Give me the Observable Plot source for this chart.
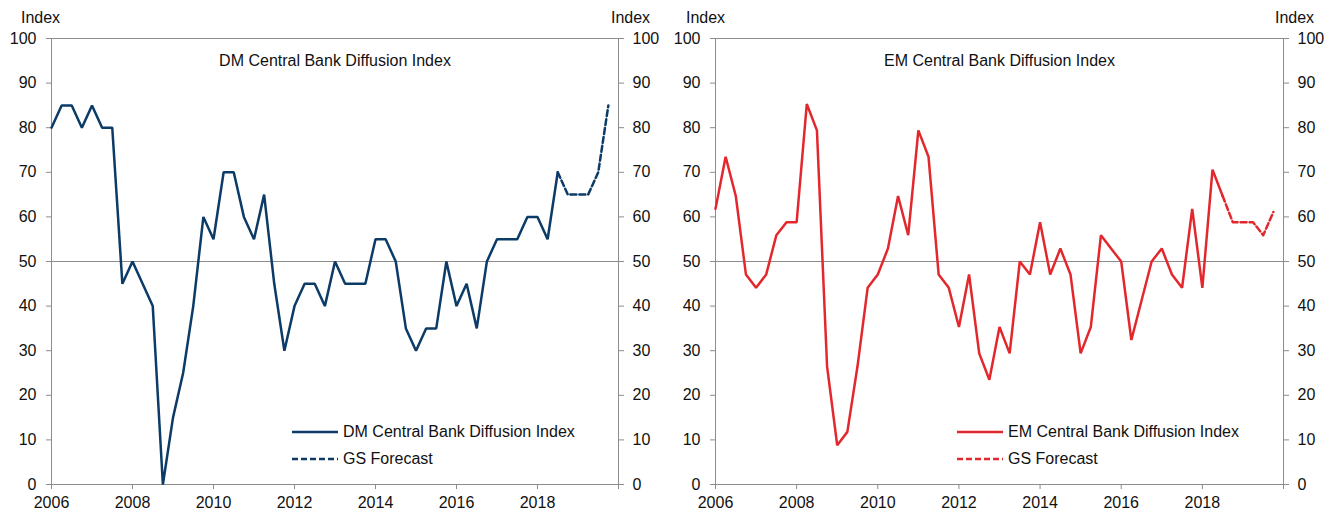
<!DOCTYPE html>
<html><head><meta charset="utf-8">
<script src="https://cdn.jsdelivr.net/npm/d3@7"></script>
<script src="https://cdn.jsdelivr.net/npm/@observablehq/plot@0.6"></script>
<style>
body{margin:0;background:#fff;font-family:"Liberation Sans",Arial,sans-serif;}
#wrap{position:relative;width:1334px;height:512px;display:flex;}
#wrap svg{overflow:visible;}
.leg{position:absolute;font-size:16px;color:#111;display:flex;align-items:center;white-space:nowrap;height:20px;}
.leg svg{margin-right:5px;}
</style></head><body><div id="wrap"></div>
<script>
// Quarterly observations starting 2006 Q1
const startYear = 2006;
const dmActual = [80,85,85,80,85,80,80,45,50,45,40,0,15,25,40,60,55,70,70,60,55,65,45,30,40,45,45,40,50,45,45,45,55,55,50,35,30,35,35,50,40,45,35,50,55,55,55,60,60,55,70];
const dmForecast = [70,65,65,65,70,85]; // begins at the last actual quarter
const emActual = [61.8,73.5,64.7,47.1,44.1,47.1,55.9,58.8,58.8,85.3,79.4,26.5,8.8,11.8,26.5,44.1,47.1,52.9,64.7,55.9,79.4,73.5,47.1,44.1,35.3,47.1,29.4,23.5,35.3,29.4,50.0,47.1,58.8,47.1,52.9,47.1,29.4,35.3,55.9,52.9,50.0,32.4,41.2,50.0,52.9,47.1,44.1,61.8,44.1,70.6,64.7];
const emForecast = [64.7,58.8,58.8,58.8,55.9,61.1];
const yTicks = [0,10,20,30,40,50,60,70,80,90,100];
const xTicks = [2006,2008,2010,2012,2014,2016,2018,2020];
const xLabels = ["2006","2008","2010","2012","2014","2016","2018",""];
const titles = ["DM Central Bank Diffusion Index","EM Central Bank Diffusion Index"];
const seriesNames = ["DM Central Bank Diffusion Index","EM Central Bank Diffusion Index"];
const forecastName = "GS Forecast";
const colors = ["#0b3b66","#e3282d"];
const axisLabel = "Index";

const FONT = '"Liberation Sans",Arial,sans-serif';
const GRAY = "#8c8c8c";
const FS = 16;

function panel(actual, forecast, title, color, mL, mR, idxL, idxR){
  const a = actual.map((v,i)=>({t:startYear+i/4, v}));
  const off = actual.length-1;
  const f = forecast.map((v,i)=>({t:startYear+(off+i)/4, v}));
  return Plot.plot({
    width:667, height:512, marginLeft:mL, marginRight:mR, marginTop:38, marginBottom:28,
    style:{fontFamily:FONT, fontSize:FS+"px", color:"#111", background:"white", overflow:"visible"},
    x:{domain:[2006,2020]},
    y:{domain:[0,100]},
    marks:[
      Plot.ruleY([50],{stroke:GRAY, strokeWidth:1}),
      Plot.frame({stroke:GRAY, strokeWidth:1}),
      Plot.axisY({anchor:"left", ticks:yTicks, tickSize:5, tickPadding:10, stroke:GRAY, fill:"#111", label:null, fontSize:FS}),
      Plot.axisY({anchor:"right", ticks:yTicks, tickSize:5, tickPadding:9, stroke:GRAY, fill:"#111", label:null, fontSize:FS}),
      Plot.axisX({anchor:"bottom", ticks:xTicks, tickSize:5, tickPadding:7, stroke:GRAY, fill:"#111", label:null, fontSize:FS,
                  tickFormat:d=>xLabels[xTicks.indexOf(d)]}),
      Plot.line(a,{x:"t", y:"v", stroke:color, strokeWidth:2.5, strokeLinejoin:"miter"}),
      Plot.line(f,{x:"t", y:"v", stroke:color, strokeWidth:2.5, strokeDasharray:"6,3"}),
      Plot.text([title],{text:d=>d, frameAnchor:"top", lineAnchor:"middle", dy:22, fontSize:FS, fill:"#111"}),
      Plot.text([axisLabel],{text:d=>d, frameAnchor:"top-left", textAnchor:"middle", lineAnchor:"middle", dx:idxL, dy:-21, fontSize:FS, fill:"#111"}),
      Plot.text([axisLabel],{text:d=>d, frameAnchor:"top-right", textAnchor:"middle", lineAnchor:"middle", dx:idxR, dy:-21, fontSize:FS, fill:"#111"})
    ]
  });
}

const wrap = document.getElementById("wrap");
wrap.appendChild(panel(dmActual, dmForecast, titles[0], colors[0], 51, 49, -11, 12));
wrap.appendChild(panel(emActual, emForecast, titles[1], colors[1], 48, 51, -10, 11));

function legendItem(left, top, color, dashed, label){
  const d = document.createElement("div");
  d.className = "leg";
  d.style.left = left+"px"; d.style.top = (top-10)+"px";
  d.innerHTML = `<svg width="46" height="6"><line x1="0" x2="46" y1="3" y2="3" stroke="${color}" stroke-width="2.5" ${dashed?'stroke-dasharray="6,3"':''}/></svg><span>${label}</span>`;
  wrap.appendChild(d);
}
const legLeft = [292, 957];
[0,1].forEach(k=>{
  legendItem(legLeft[k], 432, colors[k], false, seriesNames[k]);
  legendItem(legLeft[k], 459, colors[k], true, forecastName);
});
</script></body></html>
